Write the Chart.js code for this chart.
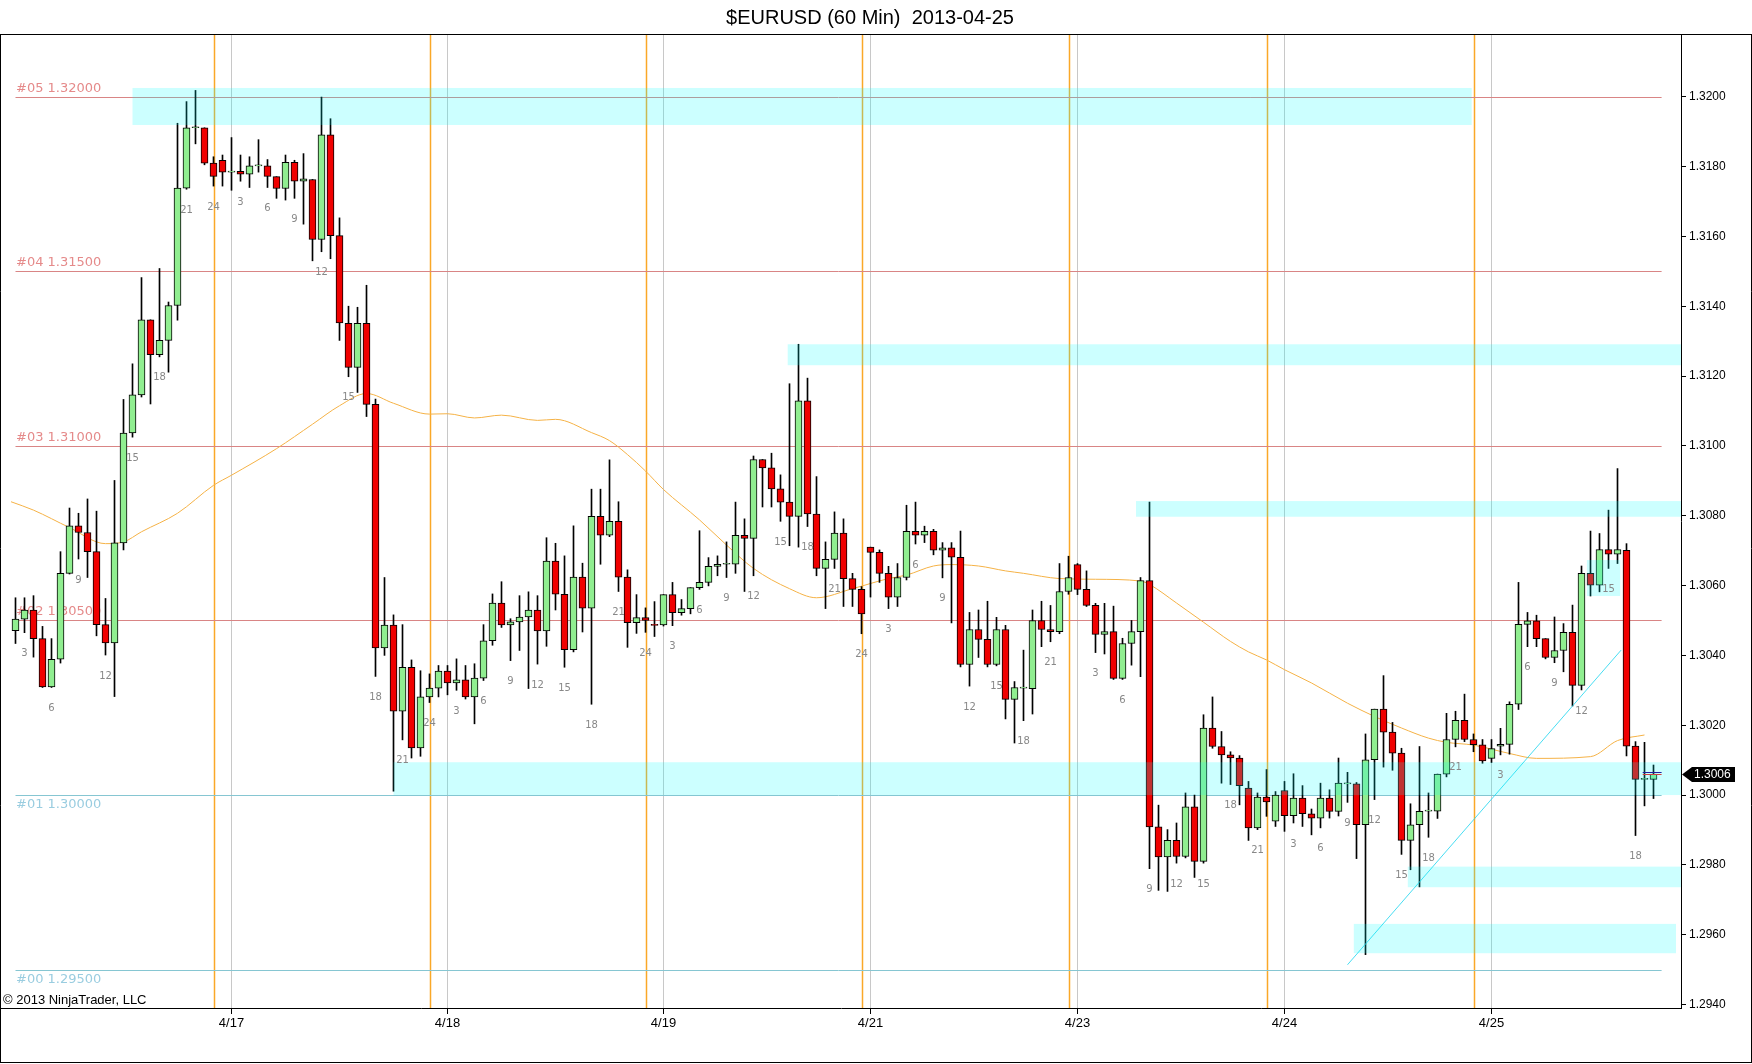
<!DOCTYPE html>
<html>
<head>
<meta charset="utf-8">
<script src="https://cdn.jsdelivr.net/npm/chart.js@4.4.0/dist/chart.umd.min.js"></script>
<style>
  html, body { margin: 0; padding: 0; background: #fff; }
  #wrap { width: 1752px; height: 1064px; }
</style>
</head>
<body>
<div id="wrap"><canvas id="candles" width="1752" height="1064"></canvas></div>
<script>
// hourly EURUSD bars, index 0 = first bar on the left
const opens = [
  1.30471, 1.30504, 1.30530, 1.30448, 1.30310, 1.30389, 1.30635, 1.30771, 1.30752, 1.30697,
  1.30488, 1.30436, 1.30722, 1.31037, 1.31146, 1.31361, 1.31261, 1.31302, 1.31402, 1.31738,
  1.31911, 1.31911, 1.31810, 1.31818, 1.31784, 1.31786, 1.31778, 1.31802, 1.31802, 1.31771,
  1.31737, 1.31812, 1.31758, 1.31763, 1.31591, 1.31891, 1.31602, 1.31351, 1.31225, 1.31351,
  1.31119, 1.30421, 1.30487, 1.30240, 1.30366, 1.30135, 1.30281, 1.30306, 1.30355, 1.30321,
  1.30330, 1.30281, 1.30335, 1.30442, 1.30550, 1.30487, 1.30496, 1.30510, 1.30530, 1.30470,
  1.30670, 1.30575, 1.30416, 1.30624, 1.30535, 1.30798, 1.30744, 1.30784, 1.30624, 1.30494,
  1.30508, 1.30488, 1.30487, 1.30574, 1.30522, 1.30534, 1.30594, 1.30609, 1.30655, 1.30661,
  1.30661, 1.30744, 1.30735, 1.30961, 1.30937, 1.30877, 1.30839, 1.30798, 1.31129, 1.30805,
  1.30649, 1.30675, 1.30750, 1.30620, 1.30589, 1.30710, 1.30695, 1.30635, 1.30567, 1.30623,
  1.30755, 1.30744, 1.30755, 1.30701, 1.30708, 1.30681, 1.30374, 1.30474, 1.30446, 1.30374,
  1.30474, 1.30274, 1.30306, 1.30305, 1.30500, 1.30474, 1.30468, 1.30583, 1.30660, 1.30589,
  1.30543, 1.30460, 1.30468, 1.30334, 1.30434, 1.30468, 1.30614, 1.29909, 1.29823, 1.29870,
  1.29824, 1.29966, 1.29810, 1.30192, 1.30139, 1.30115, 1.30106, 1.30020, 1.29906, 1.29994,
  1.29925, 1.30013, 1.29941, 1.29991, 1.29946, 1.29934, 1.29991, 1.29953, 1.30032, 1.30032,
  1.29915, 1.30101, 1.30246, 1.30180, 1.30120, 1.29870, 1.29915, 1.29954, 1.29954, 1.30060,
  1.30159, 1.30214, 1.30159, 1.30144, 1.30105, 1.30140, 1.30145, 1.30260, 1.30489, 1.30499,
  1.30448, 1.30394, 1.30414, 1.30466, 1.30314, 1.30635, 1.30601, 1.30703, 1.30690, 1.30701,
  1.30140, 1.30045, 1.30045
];
const highs = [
  1.30565, 1.30565, 1.30571, 1.30483, 1.30448, 1.30697, 1.30822, 1.30807, 1.30848, 1.30813,
  1.30563, 1.30901, 1.31133, 1.31235, 1.31482, 1.31361, 1.31508, 1.31412, 1.31924, 1.31986,
  1.32018, 1.31911, 1.31828, 1.31833, 1.31883, 1.31833, 1.31828, 1.31877, 1.31820, 1.31771,
  1.31833, 1.31818, 1.31837, 1.31763, 1.31999, 1.31937, 1.31653, 1.31400, 1.31397, 1.31460,
  1.31134, 1.30623, 1.30516, 1.30488, 1.30387, 1.30356, 1.30347, 1.30371, 1.30371, 1.30390,
  1.30371, 1.30376, 1.30488, 1.30576, 1.30611, 1.30505, 1.30571, 1.30582, 1.30571, 1.30737,
  1.30721, 1.30685, 1.30771, 1.30664, 1.30876, 1.30876, 1.30960, 1.30840, 1.30645, 1.30574,
  1.30536, 1.30554, 1.30574, 1.30609, 1.30560, 1.30594, 1.30757, 1.30680, 1.30685, 1.30725,
  1.30839, 1.30791, 1.30971, 1.30961, 1.30979, 1.30917, 1.31178, 1.31291, 1.31194, 1.30912,
  1.30725, 1.30811, 1.30791, 1.30635, 1.30597, 1.30710, 1.30702, 1.30655, 1.30663, 1.30830,
  1.30839, 1.30770, 1.30761, 1.30723, 1.30723, 1.30756, 1.30523, 1.30530, 1.30555, 1.30509,
  1.30486, 1.30325, 1.30415, 1.30530, 1.30555, 1.30543, 1.30663, 1.30684, 1.30663, 1.30642,
  1.30549, 1.30549, 1.30541, 1.30449, 1.30500, 1.30623, 1.30839, 1.29971, 1.29901, 1.29920,
  1.30006, 1.30000, 1.30230, 1.30281, 1.30182, 1.30124, 1.30113, 1.30039, 1.30006, 1.30073,
  1.30010, 1.30039, 1.30061, 1.30027, 1.29960, 1.30034, 1.30015, 1.30106, 1.30065, 1.30036,
  1.30175, 1.30246, 1.30342, 1.30208, 1.30134, 1.29975, 1.30139, 1.30006, 1.30060, 1.30234,
  1.30240, 1.30289, 1.30175, 1.30159, 1.30159, 1.30191, 1.30267, 1.30609, 1.30523, 1.30515,
  1.30448, 1.30510, 1.30491, 1.30544, 1.30656, 1.30756, 1.30749, 1.30816, 1.30935, 1.30720,
  1.30153, 1.30151, 1.30086
];
const lows = [
  1.30434, 1.30465, 1.30395, 1.30308, 1.30308, 1.30378, 1.30633, 1.30676, 1.30623, 1.30456,
  1.30401, 1.30282, 1.30702, 1.31025, 1.31140, 1.31120, 1.31255, 1.31211, 1.31360, 1.31735,
  1.31865, 1.31805, 1.31744, 1.31744, 1.31732, 1.31758, 1.31740, 1.31784, 1.31740, 1.31709,
  1.31704, 1.31709, 1.31635, 1.31530, 1.31556, 1.31536, 1.31302, 1.31198, 1.31153, 1.31084,
  1.30340, 1.30400, 1.30011, 1.30158, 1.30106, 1.30111, 1.30265, 1.30281, 1.30287, 1.30300,
  1.30275, 1.30204, 1.30328, 1.30429, 1.30480, 1.30385, 1.30414, 1.30305, 1.30375, 1.30426,
  1.30530, 1.30366, 1.30410, 1.30467, 1.30260, 1.30661, 1.30740, 1.30583, 1.30423, 1.30463,
  1.30466, 1.30454, 1.30484, 1.30485, 1.30515, 1.30519, 1.30589, 1.30599, 1.30628, 1.30623,
  1.30635, 1.30583, 1.30628, 1.30825, 1.30825, 1.30784, 1.30714, 1.30710, 1.30769, 1.30628,
  1.30534, 1.30649, 1.30540, 1.30540, 1.30462, 1.30567, 1.30609, 1.30534, 1.30540, 1.30616,
  1.30719, 1.30723, 1.30688, 1.30622, 1.30493, 1.30367, 1.30312, 1.30394, 1.30367, 1.30370,
  1.30218, 1.30149, 1.30213, 1.30232, 1.30425, 1.30439, 1.30462, 1.30575, 1.30574, 1.30540,
  1.30408, 1.30404, 1.30331, 1.30331, 1.30372, 1.30339, 1.29789, 1.29727, 1.29724, 1.29805,
  1.29820, 1.29764, 1.29805, 1.30134, 1.30034, 1.30030, 1.29972, 1.29870, 1.29901, 1.29939,
  1.29910, 1.29896, 1.29920, 1.29910, 1.29886, 1.29906, 1.29934, 1.29940, 1.29979, 1.29818,
  1.29543, 1.29987, 1.30080, 1.30071, 1.29830, 1.29786, 1.29737, 1.29879, 1.29933, 1.30052,
  1.30138, 1.30153, 1.30124, 1.30091, 1.30093, 1.30115, 1.30117, 1.30245, 1.30425, 1.30425,
  1.30390, 1.30379, 1.30353, 1.30255, 1.30301, 1.30570, 1.30582, 1.30649, 1.30663, 1.30112,
  1.29884, 1.29969, 1.29990
];
const closes = [
  1.30504, 1.30530, 1.30448, 1.30310, 1.30389, 1.30635, 1.30771, 1.30752, 1.30697, 1.30488,
  1.30436, 1.30722, 1.31037, 1.31146, 1.31361, 1.31261, 1.31302, 1.31402, 1.31738, 1.31911,
  1.31911, 1.31810, 1.31772, 1.31784, 1.31784, 1.31778, 1.31802, 1.31802, 1.31772, 1.31737,
  1.31812, 1.31758, 1.31765, 1.31591, 1.31891, 1.31602, 1.31352, 1.31225, 1.31351, 1.31119,
  1.30421, 1.30487, 1.30240, 1.30366, 1.30135, 1.30281, 1.30306, 1.30355, 1.30321, 1.30330,
  1.30281, 1.30335, 1.30442, 1.30550, 1.30487, 1.30496, 1.30510, 1.30530, 1.30470, 1.30670,
  1.30575, 1.30416, 1.30624, 1.30535, 1.30798, 1.30744, 1.30784, 1.30624, 1.30494, 1.30508,
  1.30500, 1.30486, 1.30574, 1.30522, 1.30534, 1.30594, 1.30609, 1.30655, 1.30661, 1.30661,
  1.30744, 1.30735, 1.30961, 1.30937, 1.30877, 1.30839, 1.30798, 1.31129, 1.30805, 1.30649,
  1.30675, 1.30750, 1.30620, 1.30589, 1.30519, 1.30695, 1.30635, 1.30567, 1.30623, 1.30755,
  1.30744, 1.30755, 1.30701, 1.30708, 1.30681, 1.30374, 1.30474, 1.30446, 1.30374, 1.30474,
  1.30274, 1.30308, 1.30306, 1.30500, 1.30474, 1.30468, 1.30583, 1.30623, 1.30589, 1.30543,
  1.30460, 1.30468, 1.30334, 1.30434, 1.30468, 1.30614, 1.29909, 1.29823, 1.29870, 1.29824,
  1.29966, 1.29810, 1.30192, 1.30139, 1.30115, 1.30106, 1.30027, 1.29906, 1.29994, 1.29980,
  1.30000, 1.29941, 1.29991, 1.29947, 1.29934, 1.29991, 1.29953, 1.30034, 1.30032, 1.29915,
  1.30101, 1.30246, 1.30180, 1.30120, 1.29870, 1.29915, 1.29953, 1.29954, 1.30060, 1.30159,
  1.30214, 1.30159, 1.30144, 1.30098, 1.30133, 1.30145, 1.30260, 1.30489, 1.30499, 1.30448,
  1.30394, 1.30414, 1.30466, 1.30314, 1.30635, 1.30601, 1.30703, 1.30690, 1.30703, 1.30140,
  1.30045, 1.30045, 1.30060
];

// moving average, read at a few bars
const smaIdx = [-0.5, 2, 6, 10, 12, 14, 18, 22, 24, 29, 33, 36, 39, 42, 46, 48, 51, 54, 58, 60,
  64, 66, 68, 70, 72, 76, 79, 82, 86, 89, 93, 97, 99, 102, 104, 107, 110, 112, 116, 120,
  125, 126, 129, 132, 135, 137, 139, 141, 144, 148, 151, 154, 157, 159, 162, 166, 169, 175, 178, 181];
const smaVal = [1.30840, 1.30816, 1.30766, 1.30720, 1.30725, 1.30754, 1.30807, 1.30887, 1.30916, 1.30992,
  1.31062, 1.31115, 1.31150, 1.31122, 1.31091, 1.31092, 1.31080, 1.31088, 1.31073, 1.31076,
  1.31038, 1.31015, 1.30975, 1.30928, 1.30875, 1.30788, 1.30716, 1.30649, 1.30591, 1.30565,
  1.30591, 1.30620, 1.30630, 1.30656, 1.30660, 1.30656, 1.30642, 1.30635, 1.30620, 1.30618,
  1.30613, 1.30603, 1.30550, 1.30495, 1.30440, 1.30410, 1.30387, 1.30359, 1.30321, 1.30263,
  1.30225, 1.30192, 1.30163, 1.30151, 1.30143, 1.30119, 1.30105, 1.30110, 1.30156, 1.30172];

// hour numbers printed under every third bar: [bar, hour]
const hourMarks = [[1,3],[4,6],[7,9],[10,12],[13,15],[16,18],[19,21],[22,24],
  [25,3],[28,6],[31,9],[34,12],[37,15],[40,18],[43,21],[46,24],
  [49,3],[52,6],[55,9],[58,12],[61,15],[64,18],[67,21],[70,24],
  [73,3],[76,6],[79,9],[82,12],[85,15],[88,18],[91,21],[94,24],
  [97,3],[100,6],[103,9],[106,12],[109,15],[112,18],[115,21],
  [120,3],[123,6],[126,9],[129,12],[132,15],[135,18],[138,21],
  [142,3],[145,6],[148,9],[151,12],[154,15],[157,18],[160,21],
  [165,3],[168,6],[171,9],[174,12],[177,15],[180,18]];

// x axis: date ticks sit on the bar where the day starts
const dateTickIdx = [24, 48, 72, 95, 118, 141, 164];
const dateLabels = ['4/17', '4/18', '4/19', '4/21', '4/23', '4/24', '4/25'];
const sessionIdx = [22, 46, 70, 94, 117, 139, 162];

const priceTicks = [1.294, 1.296, 1.298, 1.300, 1.302, 1.304, 1.306, 1.308, 1.310,
  1.312, 1.314, 1.316, 1.318, 1.320];

const levelNames = ['#05', '#04', '#03', '#02', '#01', '#00'];
const levelPrices = [1.32, 1.315, 1.31, 1.305, 1.30, 1.295];

// support/resistance boxes: [from bar, to bar (null = right edge), top, bottom]
const zones = [
  [13.0, 161.8, 1.32025, 1.31919],
  [85.8, null, 1.31291, 1.31231],
  [124.5, null, 1.30842, 1.30797],
  [42.0, null, 1.30094, 1.30000],
  [154.7, null, 1.29795, 1.29736],
  [148.7, 184.5, 1.29631, 1.29547],
  [174.6, 178.3, 1.30673, 1.30570]
];
const trendIdx = [148.0, 178.4];
const trendVal = [1.29514, 1.30415];

const UP = '#90EE90', DOWN = '#F00000';
const last = closes.length - 1;

const overlay = {
  id: 'overlay',
  beforeDatasetsDraw(chart) {
    const { ctx, chartArea: a, scales: { x, y } } = chart;
    ctx.save();
    ctx.beginPath();
    ctx.rect(a.left, a.top, a.right - a.left, a.bottom - a.top);
    ctx.clip();
    ctx.strokeStyle = 'rgb(250,168,40)';
    ctx.lineWidth = 1.5;
    sessionIdx.forEach(i => {
      const px = Math.round(x.getPixelForValue(i)) + 0.5;
      ctx.beginPath(); ctx.moveTo(px, a.top); ctx.lineTo(px, a.bottom); ctx.stroke();
    });
    ctx.lineWidth = 1;
    ctx.font = '13px "DejaVu Sans"';
    ctx.textBaseline = 'middle';
    ctx.textAlign = 'left';
    levelPrices.forEach((p, k) => {
      const py = Math.round(y.getPixelForValue(p)) + 0.5;
      const upper = p > 1.3001;
      ctx.strokeStyle = upper ? '#D98585' : '#86C6D2';
      ctx.beginPath();
      ctx.moveTo(x.getPixelForValue(0), py);
      ctx.lineTo(x.getPixelForValue(182.9), py);
      ctx.stroke();
      ctx.fillStyle = upper ? '#E58A8A' : '#9ACDE0';
      ctx.fillText(levelNames[k] + ' ' + p.toFixed(5), 16, upper ? py - 9 : py + 9);
    });
    ctx.restore();
  },
  afterDatasetsDraw(chart) {
    const { ctx, chartArea: a, scales: { x, y } } = chart;
    ctx.save();
    ctx.beginPath();
    ctx.rect(a.left, a.top, a.right - a.left, a.bottom - a.top);
    ctx.clip();
    ctx.fillStyle = 'rgba(0,255,255,0.2)';
    zones.forEach(([x0, x1, top, bot]) => {
      const l = x.getPixelForValue(x0);
      const r = x1 === null ? a.right : x.getPixelForValue(x1);
      const t = y.getPixelForValue(top), b = y.getPixelForValue(bot);
      ctx.fillRect(l, t, r - l, b - t);
    });
    // bid / ask ticks at the last bar
    const lx0 = x.getPixelForValue(last - 1.2), lx1 = x.getPixelForValue(last + 0.9);
    const yl = Math.round(y.getPixelForValue(closes[last]));
    ctx.strokeStyle = '#2020A0';
    ctx.beginPath(); ctx.moveTo(lx0, yl - 1.5); ctx.lineTo(lx1, yl - 1.5); ctx.stroke();
    ctx.strokeStyle = '#D04040';
    ctx.beginPath(); ctx.moveTo(lx0, yl + 0.5); ctx.lineTo(lx1, yl + 0.5); ctx.stroke();

    ctx.fillStyle = '#888';
    ctx.font = '10px "DejaVu Sans"';
    ctx.textAlign = 'center';
    ctx.textBaseline = 'middle';
    hourMarks.forEach(([i, h]) => {
      ctx.fillText(String(h), x.getPixelForValue(i), y.getPixelForValue(lows[i]) + 21);
    });
    ctx.restore();
  },
  afterDraw(chart) {
    const { ctx, chartArea: a, scales: { y } } = chart;
    ctx.save();
    ctx.strokeStyle = '#000';
    ctx.lineWidth = 1;
    ctx.beginPath();
    ctx.moveTo(0, 34.5); ctx.lineTo(1752, 34.5);
    ctx.moveTo(0.5, 34); ctx.lineTo(0.5, 1063);
    ctx.moveTo(1751.5, 34); ctx.lineTo(1751.5, 1063);
    ctx.moveTo(0, 1062.5); ctx.lineTo(1752, 1062.5);
    ctx.stroke();

    ctx.fillStyle = '#000';
    ctx.font = '20px "Liberation Sans"';
    ctx.textAlign = 'center';
    ctx.textBaseline = 'middle';
    ctx.fillText('$EURUSD (60 Min)  2013-04-25', 870, 18);

    ctx.font = '13px "Liberation Sans"';
    ctx.textAlign = 'left';
    ctx.fillText('\u00A9 2013 NinjaTrader, LLC', 3, 1000);

    // last price flag on the axis
    const yc = Math.round(y.getPixelForValue(closes[last])) + 0.5;
    const r = a.right;
    ctx.beginPath();
    ctx.moveTo(r + 1, yc);
    ctx.lineTo(r + 11, yc - 7.5);
    ctx.lineTo(r + 54, yc - 7.5);
    ctx.lineTo(r + 54, yc + 7.5);
    ctx.lineTo(r + 11, yc + 7.5);
    ctx.closePath();
    ctx.fill();
    ctx.fillStyle = '#fff';
    ctx.font = '12px "Liberation Sans"';
    ctx.fillText(closes[last].toFixed(4), r + 13, yc + 0.5);
    ctx.restore();
  }
};

const wickData = lows.map((l, i) => ({ x: i, y: [l, highs[i]] }));
const bodyData = opens.map((o, i) => ({ x: i, y: [Math.min(o, closes[i]), Math.max(o, closes[i])] }));
const bodyColors = opens.map((o, i) => (closes[i] >= o ? UP : DOWN));

new Chart(document.getElementById('candles'), {
  type: 'bar',
  data: {
    datasets: [
      {
        type: 'line',
        data: trendIdx.map((v, i) => ({ x: v, y: trendVal[i] })),
        borderColor: 'rgba(40,215,240,0.85)',
        borderWidth: 1,
        pointRadius: 0,
        order: 0
      },
      {
        data: bodyData,
        backgroundColor: bodyColors,
        borderColor: '#000',
        borderWidth: 1,
        borderSkipped: false,
        barThickness: 7,
        minBarLength: 1,
        grouped: false,
        order: 1
      },
      {
        data: wickData,
        backgroundColor: '#000',
        barThickness: 1,
        grouped: false,
        order: 2
      },
      {
        type: 'line',
        data: smaIdx.map((v, i) => ({ x: v, y: smaVal[i] })),
        borderColor: 'rgb(245,178,70)',
        borderWidth: 1,
        pointRadius: 0,
        cubicInterpolationMode: 'monotone',
        order: 3
      }
    ]
  },
  options: {
    responsive: false,
    animation: false,
    devicePixelRatio: 1,
    layout: { padding: { left: 1, top: 34, right: 0, bottom: 0 } },
    plugins: { legend: { display: false }, tooltip: { enabled: false }, title: { display: false } },
    scales: {
      x: {
        type: 'linear',
        offset: false,
        min: -14.5 / 9,
        max: -14.5 / 9 + 1680 / 9,
        afterBuildTicks: s => { s.ticks = dateTickIdx.map(v => ({ value: v })); },
        afterFit: s => { s.height = 56; },
        ticks: {
          autoSkip: false,
          maxRotation: 0,
          padding: 2,
          color: '#000',
          font: { family: 'Liberation Sans', size: 13 },
          callback: (v, i) => dateLabels[i]
        },
        grid: { offset: false, color: '#C8C8C8', lineWidth: 1, drawOnChartArea: true, drawTicks: true, tickLength: 6, tickColor: '#000' },
        border: { display: true, color: '#000', width: 1 }
      },
      y: {
        type: 'linear',
        position: 'right',
        min: 1.293901,
        max: 1.321796,
        afterBuildTicks: s => { s.ticks = priceTicks.map(v => ({ value: v })); },
        afterFit: s => { s.width = 71; },
        ticks: {
          padding: 3,
          color: '#000',
          font: { family: 'Liberation Sans', size: 12 },
          callback: v => v.toFixed(4)
        },
        grid: { drawOnChartArea: false, drawTicks: true, tickLength: 5, tickColor: '#000' },
        border: { display: true, color: '#000', width: 1 }
      }
    }
  },
  plugins: [overlay]
});
</script>
</body>
</html>
